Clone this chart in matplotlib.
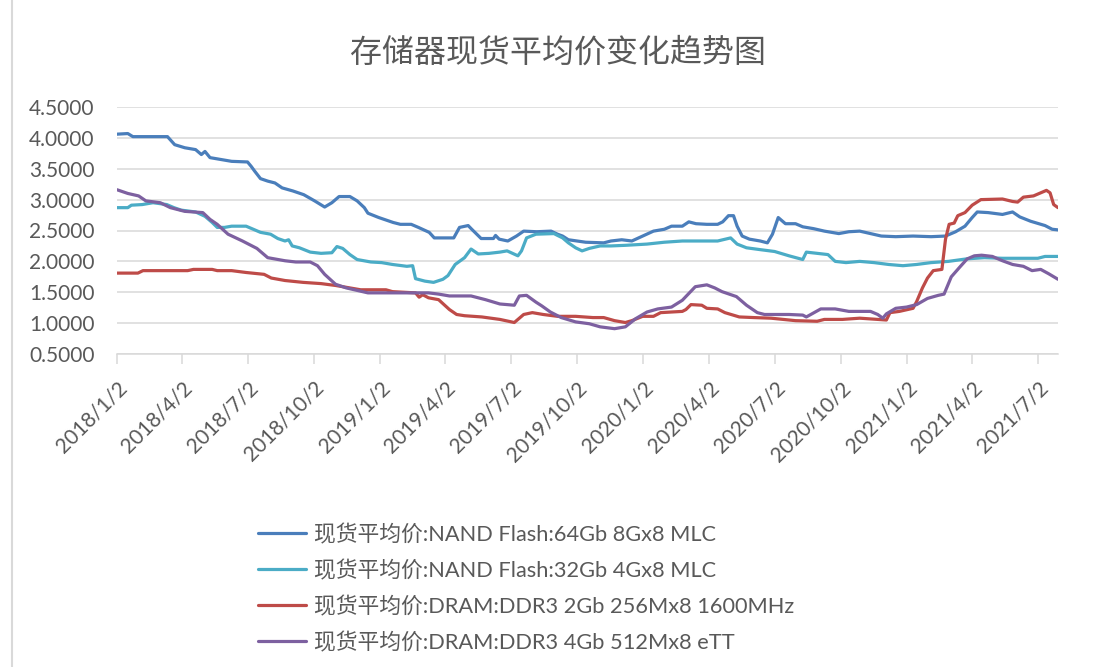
import matplotlib
matplotlib.use("Agg")
import matplotlib.pyplot as plt
from matplotlib.lines import Line2D
from matplotlib.ticker import FormatStrFormatter
import numpy as np
import pandas as pd

plt.rcParams['font.family'] = ['Lato', 'Noto Sans CJK SC', 'DejaVu Sans']

title = "存储器现货平均价变化趋势图"
series_names = [
    "现货平均价:NAND Flash:64Gb 8Gx8 MLC",
    "现货平均价:NAND Flash:32Gb 4Gx8 MLC",
    "现货平均价:DRAM:DDR3 2Gb 256Mx8 1600MHz",
    "现货平均价:DRAM:DDR3 4Gb 512Mx8 eTT",
]
colors = ["#4A7EBB", "#4BACC6", "#BE4B48", "#7D60A0"]

nand64_dates = ["2018-01-02", "2018-01-17", "2018-01-24", "2018-03-13", "2018-03-23", "2018-04-06",
                "2018-04-21", "2018-04-29", "2018-05-04", "2018-05-11", "2018-05-26", "2018-06-10",
                "2018-07-02", "2018-07-07", "2018-07-12", "2018-07-20", "2018-07-30", "2018-08-09",
                "2018-08-19", "2018-09-03", "2018-09-18", "2018-10-03", "2018-10-17", "2018-10-27",
                "2018-11-06", "2018-11-21", "2018-12-01", "2018-12-11", "2018-12-16", "2018-12-31",
                "2019-01-20", "2019-01-30", "2019-02-14", "2019-02-24", "2019-03-11", "2019-03-18",
                "2019-04-14", "2019-04-22", "2019-05-04", "2019-05-09", "2019-05-22", "2019-06-08",
                "2019-06-11", "2019-06-16", "2019-06-28", "2019-07-10", "2019-07-20", "2019-08-07",
                "2019-08-27", "2019-09-05", "2019-09-12", "2019-09-20", "2019-10-14", "2019-11-08",
                "2019-11-18", "2019-12-03", "2019-12-17", "2020-01-01", "2020-01-16", "2020-01-31",
                "2020-02-10", "2020-02-25", "2020-03-05", "2020-03-15", "2020-03-30", "2020-04-14",
                "2020-04-21", "2020-04-29", "2020-05-06", "2020-05-11", "2020-05-18", "2020-05-28",
                "2020-06-12", "2020-06-22", "2020-06-29", "2020-07-07", "2020-07-17", "2020-07-31",
                "2020-08-10", "2020-08-25", "2020-09-09", "2020-09-29", "2020-10-13", "2020-10-28",
                "2020-11-12", "2020-11-27", "2020-12-17", "2021-01-10", "2021-02-04", "2021-02-24",
                "2021-03-10", "2021-03-23", "2021-04-02", "2021-04-09", "2021-04-24", "2021-05-14",
                "2021-05-28", "2021-06-07", "2021-06-22", "2021-07-12", "2021-07-22", "2021-07-30"]
nand64_vals = [4.06, 4.07, 4.02, 4.02, 3.89, 3.84,
               3.81, 3.73, 3.78, 3.68, 3.65, 3.62,
               3.61, 3.54, 3.46, 3.34, 3.30, 3.27,
               3.19, 3.14, 3.08, 2.98, 2.88, 2.95,
               3.05, 3.05, 2.98, 2.87, 2.78, 2.71,
               2.63, 2.60, 2.60, 2.55, 2.47, 2.38,
               2.38, 2.55, 2.58, 2.52, 2.37, 2.37,
               2.42, 2.36, 2.33, 2.41, 2.49, 2.48,
               2.49, 2.44, 2.41, 2.35, 2.31, 2.30,
               2.33, 2.35, 2.33, 2.41, 2.49, 2.52,
               2.57, 2.57, 2.64, 2.61, 2.60, 2.60,
               2.64, 2.74, 2.74, 2.57, 2.41, 2.36,
               2.33, 2.30, 2.44, 2.71, 2.61, 2.61,
               2.56, 2.53, 2.49, 2.45, 2.48, 2.49,
               2.45, 2.41, 2.40, 2.41, 2.40, 2.41,
               2.48, 2.57, 2.71, 2.80, 2.79, 2.76,
               2.80, 2.72, 2.65, 2.58, 2.52, 2.51]

nand32_dates = ["2018-01-02", "2018-01-17", "2018-01-22", "2018-02-06", "2018-02-21", "2018-03-12",
                "2018-03-22", "2018-04-01", "2018-04-21", "2018-05-04", "2018-05-14", "2018-05-21",
                "2018-05-31", "2018-06-10", "2018-06-30", "2018-07-10", "2018-07-20", "2018-08-03",
                "2018-08-13", "2018-08-23", "2018-08-28", "2018-09-02", "2018-09-12", "2018-09-27",
                "2018-10-12", "2018-10-27", "2018-11-03", "2018-11-11", "2018-11-21", "2018-12-01",
                "2018-12-20", "2019-01-04", "2019-01-19", "2019-02-08", "2019-02-16", "2019-02-20",
                "2019-03-05", "2019-03-17", "2019-03-30", "2019-04-06", "2019-04-16", "2019-04-29",
                "2019-05-08", "2019-05-18", "2019-06-02", "2019-06-17", "2019-06-27", "2019-07-12",
                "2019-07-17", "2019-07-24", "2019-08-06", "2019-08-31", "2019-09-05", "2019-09-12",
                "2019-09-20", "2019-09-30", "2019-10-09", "2019-10-19", "2019-11-03", "2019-11-18",
                "2019-12-08", "2020-01-07", "2020-01-31", "2020-02-25", "2020-04-14", "2020-05-02",
                "2020-05-11", "2020-05-24", "2020-06-12", "2020-07-02", "2020-07-22", "2020-08-10",
                "2020-08-15", "2020-08-30", "2020-09-14", "2020-09-24", "2020-10-09", "2020-10-28",
                "2020-11-17", "2020-12-07", "2020-12-27", "2021-01-15", "2021-02-04", "2021-02-28",
                "2021-03-25", "2021-04-19", "2021-05-14", "2021-07-02", "2021-07-12", "2021-07-30"]
nand32_vals = [2.87, 2.87, 2.91, 2.92, 2.95, 2.92,
               2.87, 2.83, 2.80, 2.73, 2.63, 2.55,
               2.55, 2.57, 2.57, 2.52, 2.47, 2.44,
               2.37, 2.33, 2.35, 2.25, 2.22, 2.15,
               2.13, 2.14, 2.24, 2.21, 2.11, 2.03,
               1.99, 1.98, 1.95, 1.92, 1.93, 1.72,
               1.68, 1.66, 1.71, 1.77, 1.95, 2.06,
               2.20, 2.12, 2.13, 2.15, 2.17, 2.09,
               2.17, 2.38, 2.44, 2.45, 2.42, 2.38,
               2.30, 2.22, 2.17, 2.21, 2.25, 2.25,
               2.26, 2.28, 2.31, 2.33, 2.33, 2.38,
               2.28, 2.22, 2.19, 2.16, 2.09, 2.03,
               2.15, 2.13, 2.11, 2.00, 1.98, 2.00,
               1.98, 1.95, 1.93, 1.95, 1.98, 2.00,
               2.04, 2.06, 2.05, 2.05, 2.08, 2.08]

ddr3_2g_dates = ["2018-01-02", "2018-01-31", "2018-02-07", "2018-04-10", "2018-04-18", "2018-05-14",
                 "2018-05-21", "2018-06-10", "2018-06-30", "2018-07-25", "2018-08-04", "2018-08-23",
                 "2018-09-17", "2018-10-12", "2018-11-01", "2018-11-21", "2018-12-06", "2019-01-10",
                 "2019-01-19", "2019-02-20", "2019-02-25", "2019-03-02", "2019-03-10", "2019-03-24",
                 "2019-04-08", "2019-04-18", "2019-04-29", "2019-05-23", "2019-06-17", "2019-07-07",
                 "2019-07-20", "2019-08-01", "2019-08-16", "2019-09-05", "2019-09-30", "2019-10-24",
                 "2019-11-08", "2019-11-23", "2019-12-08", "2019-12-17", "2020-01-01", "2020-01-16",
                 "2020-01-26", "2020-02-25", "2020-03-01", "2020-03-08", "2020-03-23", "2020-03-30",
                 "2020-04-14", "2020-04-24", "2020-05-14", "2020-06-03", "2020-06-27", "2020-07-31",
                 "2020-08-30", "2020-09-09", "2020-10-04", "2020-10-28", "2020-11-22", "2020-12-04",
                 "2020-12-09", "2020-12-22", "2021-01-10", "2021-01-15", "2021-01-23", "2021-01-30",
                 "2021-02-07", "2021-02-19", "2021-02-24", "2021-03-01", "2021-03-08", "2021-03-13",
                 "2021-03-23", "2021-04-02", "2021-04-14", "2021-05-14", "2021-05-28", "2021-06-04",
                 "2021-06-12", "2021-06-26", "2021-07-06", "2021-07-14", "2021-07-19", "2021-07-24",
                 "2021-07-30"]
ddr3_2g_vals = [1.81, 1.81, 1.85, 1.85, 1.87, 1.87,
                1.85, 1.85, 1.82, 1.79, 1.73, 1.69,
                1.66, 1.64, 1.61, 1.57, 1.54, 1.54,
                1.51, 1.49, 1.42, 1.46, 1.41, 1.38,
                1.22, 1.14, 1.12, 1.10, 1.06, 1.01,
                1.14, 1.17, 1.14, 1.11, 1.11, 1.09,
                1.09, 1.04, 1.01, 1.04, 1.11, 1.11,
                1.17, 1.19, 1.22, 1.30, 1.29, 1.24,
                1.23, 1.17, 1.10, 1.09, 1.08, 1.04,
                1.03, 1.06, 1.06, 1.08, 1.06, 1.05,
                1.17, 1.19, 1.24, 1.35, 1.57, 1.73,
                1.85, 1.87, 2.36, 2.60, 2.62, 2.74,
                2.79, 2.91, 3.00, 3.01, 2.97, 2.96,
                3.04, 3.06, 3.11, 3.15, 3.11, 2.92,
                2.87]

ddr3_4g_dates = ["2018-01-02", "2018-01-17", "2018-02-01", "2018-02-11", "2018-03-03", "2018-03-17",
                 "2018-04-06", "2018-05-01", "2018-05-11", "2018-05-21", "2018-06-05", "2018-06-25",
                 "2018-07-15", "2018-07-30", "2018-08-23", "2018-09-07", "2018-09-27", "2018-10-07",
                 "2018-10-17", "2018-11-01", "2018-11-16", "2018-12-01", "2018-12-16", "2019-03-10",
                 "2019-03-24", "2019-04-08", "2019-05-08", "2019-05-28", "2019-06-17", "2019-07-07",
                 "2019-07-14", "2019-07-24", "2019-08-06", "2019-08-14", "2019-08-26", "2019-09-10",
                 "2019-09-30", "2019-10-19", "2019-11-03", "2019-11-23", "2019-12-08", "2019-12-22",
                 "2020-01-07", "2020-01-22", "2020-02-10", "2020-02-25", "2020-03-14", "2020-03-30",
                 "2020-04-10", "2020-04-20", "2020-05-10", "2020-05-24", "2020-06-08", "2020-06-18",
                 "2020-07-22", "2020-08-10", "2020-08-15", "2020-09-04", "2020-09-24", "2020-10-13",
                 "2020-11-12", "2020-11-22", "2020-11-29", "2020-12-04", "2020-12-17", "2021-01-01",
                 "2021-01-15", "2021-01-30", "2021-02-14", "2021-02-22", "2021-03-04", "2021-03-16",
                 "2021-03-26", "2021-04-05", "2021-04-15", "2021-04-30", "2021-05-14", "2021-05-28",
                 "2021-06-12", "2021-06-24", "2021-07-06", "2021-07-17", "2021-07-30"]
ddr3_4g_vals = [3.16, 3.10, 3.06, 2.98, 2.95, 2.87,
                2.81, 2.79, 2.68, 2.60, 2.44, 2.33,
                2.21, 2.06, 2.01, 1.99, 1.99, 1.93,
                1.79, 1.63, 1.57, 1.53, 1.49, 1.49,
                1.47, 1.44, 1.44, 1.38, 1.31, 1.29,
                1.44, 1.45, 1.34, 1.28, 1.18, 1.09,
                1.02, 0.99, 0.94, 0.91, 0.94, 1.07,
                1.18, 1.23, 1.26, 1.37, 1.59, 1.62,
                1.57, 1.51, 1.43, 1.29, 1.17, 1.14,
                1.14, 1.13, 1.10, 1.23, 1.23, 1.19,
                1.19, 1.14, 1.08, 1.15, 1.24, 1.26,
                1.30, 1.40, 1.45, 1.47, 1.75, 1.91,
                2.04, 2.09, 2.10, 2.08, 2.01, 1.95,
                1.92, 1.85, 1.87, 1.80, 1.71]

tick_dates = ["2018-01-02", "2018-04-02", "2018-07-02", "2018-10-02", "2019-01-02", "2019-04-02",
              "2019-07-02", "2019-10-02", "2020-01-02", "2020-04-02", "2020-07-02", "2020-10-02",
              "2021-01-02", "2021-04-02", "2021-07-02"]
y_ticks = [0.5, 1.0, 1.5, 2.0, 2.5, 3.0, 3.5, 4.0, 4.5]

W, H = 1097, 667
fig = plt.figure(figsize=(W / 100, H / 100), dpi=100)
ax = fig.add_axes([117 / W, 1 - 354 / H, (1058 - 117) / W, (354 - 107) / H])

text_color = "#595959"
grid_color = "#D9D9D9"

all_series = [(nand64_dates, nand64_vals), (nand32_dates, nand32_vals),
              (ddr3_2g_dates, ddr3_2g_vals), (ddr3_4g_dates, ddr3_4g_vals)]
handles = []
for (d, v), c, name in zip(all_series, colors, series_names):
    h, = ax.plot(pd.to_datetime(d), v, color=c, lw=2.3, solid_joinstyle='round',
                 solid_capstyle='round', label=name)
    handles.append(h)

ax.set_ylim(0.5, 4.5)
ax.set_yticks(y_ticks)
ax.yaxis.set_major_formatter(FormatStrFormatter('%.4f'))
ax.set_xlim(pd.Timestamp("2018-01-02"), pd.Timestamp("2021-07-30"))
td = pd.to_datetime(tick_dates)
ax.set_xticks(td)
ax.set_xticklabels([f"{t.year}/{t.month}/{t.day}" for t in td], rotation=45,
                   ha='right', rotation_mode='anchor')
ax.grid(axis='y', color=grid_color, lw=1.1)
ax.set_axisbelow(True)
for s in ['left', 'right', 'top']:
    ax.spines[s].set_visible(False)
ax.spines['bottom'].set_color(grid_color)
ax.spines['bottom'].set_linewidth(1.1)
ax.tick_params(axis='y', length=0, pad=16, labelsize=15, labelcolor=text_color)
ax.tick_params(axis='x', length=7, width=1.1, color=grid_color, pad=10,
               labelsize=15, labelcolor=text_color, direction='out')

fig.text(558 / W, 1 - 52 / H, title, ha='center', va='center', fontsize=23, color=text_color)

fig.legend(handles=handles, labels=series_names, loc='upper left',
           bbox_to_anchor=(238 / W, 1 - 504 / H), frameon=False, fontsize=15.7,
           handlelength=2.2, handletextpad=0.4, labelspacing=0.68, labelcolor=text_color)

fig.add_artist(Line2D([11.5 / W, 11.5 / W], [0, 1], color=grid_color, lw=1.5,
                      transform=fig.transFigure))

fig.savefig("out.png", dpi=100)
